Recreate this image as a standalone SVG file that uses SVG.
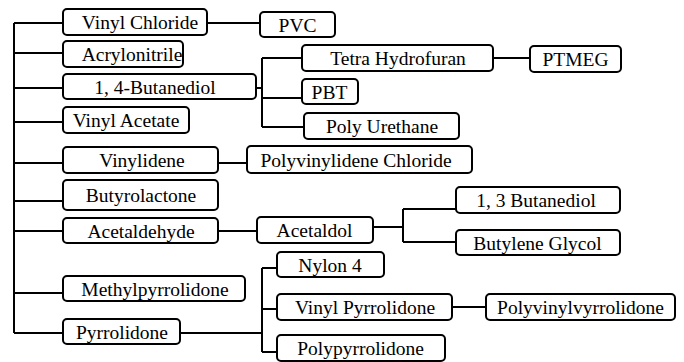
<svg xmlns="http://www.w3.org/2000/svg" width="684" height="362" viewBox="0 0 684 362">
<style>
.b{fill:#fff;stroke:#000;stroke-width:2}
.c{fill:none;stroke:#000;stroke-width:2}
</style>
<rect width="684" height="362" fill="#fff"/>
<g id="connectors">
<path class="c" d="M14,23V333M14,23H63M14,53H63M14,88H63M14,122H63M14,163H63M14,201H63M14,231H63M14,293H63M14,333H63"/>
<path class="c" d="M207,23H260"/>
<path class="c" d="M256,88H262M262,58V127M262,58H302M262,98H302M262,127H304"/>
<path class="c" d="M493,58H530"/>
<path class="c" d="M218,163H247"/>
<path class="c" d="M218,231H257"/>
<path class="c" d="M373,227H403M403,209V242M403,209H456M403,242H456"/>
<path class="c" d="M180,333H262M262,268V352M262,268H277M262,309H277M262,352H277"/>
<path class="c" d="M452,307H486"/>
</g>
<g id="nodes" text-anchor="middle" fill="#000">
<g id="n1"><rect class="b" x="63" y="9" width="144" height="26" rx="4"/><text font-family="Liberation Serif" font-size="19.5" x="140" y="29">Vinyl Chloride</text></g>
<g id="n2"><rect class="b" x="260" y="12" width="75" height="25" rx="4"/><text font-family="Liberation Serif" font-size="19.5" x="297.5" y="31.5">PVC</text></g>
<g id="n3"><rect class="b" x="63" y="41" width="120" height="26" rx="4"/><text font-family="Liberation Serif" font-size="19.5" x="132" y="61">Acrylonitrile</text></g>
<g id="n4"><rect class="b" x="63" y="74" width="193" height="25" rx="4"/><text font-family="Liberation Serif" font-size="19.5" x="155" y="93.5">1, 4-Butanediol</text></g>
<g id="n5"><rect class="b" x="302" y="45" width="191" height="26" rx="4"/><text font-family="Liberation Serif" font-size="19.5" x="398" y="65">Tetra Hydrofuran</text></g>
<g id="n6"><rect class="b" x="530" y="46" width="91" height="26" rx="4"/><text font-family="Liberation Serif" font-size="19.5" x="575.5" y="66">PTMEG</text></g>
<g id="n7"><rect class="b" x="302" y="79" width="56" height="25" rx="4"/><text font-family="Liberation Serif" font-size="19.5" x="329.5" y="98.5">PBT</text></g>
<g id="n8"><rect class="b" x="304" y="113" width="155" height="26" rx="4"/><text font-family="Liberation Serif" font-size="19.5" x="382" y="133">Poly Urethane</text></g>
<g id="n9"><rect class="b" x="63" y="107" width="126" height="26" rx="4"/><text font-family="Liberation Serif" font-size="19.5" x="126" y="127">Vinyl Acetate</text></g>
<g id="n10"><rect class="b" x="63" y="147" width="155" height="26" rx="4"/><text font-family="Liberation Serif" font-size="19.5" x="142" y="167">Vinylidene</text></g>
<g id="n11"><rect class="b" x="247" y="146" width="225" height="27" rx="4"/><text font-family="Liberation Serif" font-size="19.5" x="356" y="166.5">Polyvinylidene Chloride</text></g>
<g id="n12"><rect class="b" x="63" y="180" width="155" height="30" rx="4"/><text font-family="Liberation Serif" font-size="19.5" x="141" y="202">Butyrolactone</text></g>
<g id="n13"><rect class="b" x="63" y="218" width="155" height="25" rx="4"/><text font-family="Liberation Serif" font-size="19.5" x="141" y="237.5">Acetaldehyde</text></g>
<g id="n14"><rect class="b" x="257" y="217" width="116" height="26" rx="4"/><text font-family="Liberation Serif" font-size="19.5" x="314.5" y="237">Acetaldol</text></g>
<g id="n15"><rect class="b" x="456" y="187" width="164" height="26" rx="4"/><text font-family="Liberation Serif" font-size="19.5" x="536" y="207">1, 3 Butanediol</text></g>
<g id="n16"><rect class="b" x="456" y="230" width="164" height="25" rx="4"/><text font-family="Liberation Serif" font-size="19.5" x="537.5" y="249.5">Butylene Glycol</text></g>
<g id="n17"><rect class="b" x="63" y="276" width="182" height="25" rx="4"/><text font-family="Liberation Serif" font-size="19.5" x="155" y="295.5">Methylpyrrolidone</text></g>
<g id="n18"><rect class="b" x="63" y="319" width="117" height="25" rx="4"/><text font-family="Liberation Serif" font-size="19.5" x="122" y="338.5">Pyrrolidone</text></g>
<g id="n19"><rect class="b" x="277" y="252" width="107" height="25" rx="4"/><text font-family="Liberation Serif" font-size="19.5" x="330" y="271.5">Nylon 4</text></g>
<g id="n20"><rect class="b" x="277" y="294" width="175" height="26" rx="4"/><text font-family="Liberation Serif" font-size="19.5" x="365" y="314">Vinyl Pyrrolidone</text></g>
<g id="n21"><rect class="b" x="486" y="294" width="189" height="26" rx="4"/><text font-family="Liberation Serif" font-size="19.5" x="580.5" y="314">Polyvinylvyrrolidone</text></g>
<g id="n22"><rect class="b" x="277" y="335" width="168" height="26" rx="4"/><text font-family="Liberation Serif" font-size="19.5" x="360.5" y="355">Polypyrrolidone</text></g>
</g>
</svg>
